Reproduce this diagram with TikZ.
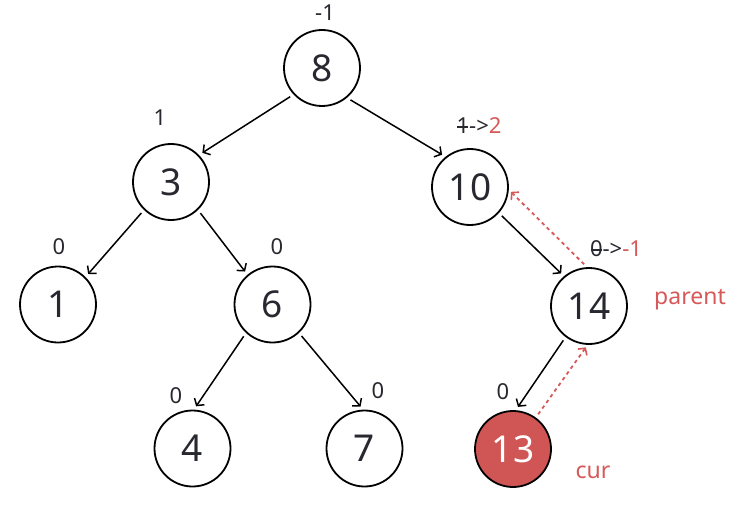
\documentclass[tikz,border=0pt]{standalone}
\usepackage{fontspec}
\setmainfont{Noto Sans}
\usetikzlibrary{arrows.meta}
\definecolor{txt}{RGB}{40,40,48}
\definecolor{redc}{RGB}{215,88,88}
\definecolor{redfill}{RGB}{208,86,86}
\newcommand\stk[1]{\ooalign{#1\cr\hidewidth\rule[0.28em]{0.5em}{0.07em}\hidewidth\cr}}
\tikzset{
  tnode/.style={circle, draw=black, line width=1.8pt, minimum size=76pt, inner sep=0pt,
    font=\fontsize{37}{40}\selectfont, text=txt},
  curnode/.style={tnode, fill=redfill, text=white},
  bal/.style={font=\fontsize{22}{26}\selectfont, text=txt, inner sep=0pt},
  rlab/.style={font=\fontsize{23}{26}\selectfont, text=redc, inner sep=0pt},
  arr/.style={line width=1.5pt, -{Straight Barb[length=5pt,width=12pt,line width=1.5pt]},
    shorten <=4pt, shorten >=4pt},
  darr/.style={line width=1.8pt, redc, dash pattern=on 3.5pt off 3.5pt,
    -{Straight Barb[length=5pt,width=11pt,line width=1.6pt]}, shorten <=4pt, shorten >=3pt}
}
\begin{document}
\begin{tikzpicture}[x=1pt,y=-1pt]
\useasboundingbox (0,0) rectangle (746,505);
\node[tnode] (n8) at (322,68) {8};
\node[tnode] (n3) at (171,182) {3};
\node[tnode] (n10) at (470,187) {10};
\node[tnode] (n1) at (58,304.5) {1};
\node[tnode] (n6) at (272.5,304.5) {6};
\node[tnode] (n14) at (589,306) {14};
\node[tnode] (n4) at (192.5,448.5) {4};
\node[tnode] (n7) at (364.5,448.5) {7};
\node[curnode] (n13) at (513,449) {13};

\node[bal] (b8) at (325,13) {-1};
\node[bal] (b3) at (160,118) {1};
\node[bal] (b10) at (479,126) {\stk{1}->\textcolor{redc}{2}};
\node[bal] (b1) at (59,247) {0};
\node[bal] (b6) at (277,247) {0};
\node[bal] (b14) at (616,249) {\stk{0}->\textcolor{redc}{-1}};
\node[bal] (b4) at (176,396) {0};
\node[bal] (b7) at (378,391) {0};
\node[bal] (b13) at (503,392) {0};
\node[rlab] (lp) at (690,300) {parent};
\node[rlab] (lc) at (593,472) {cur};

\draw[arr] (n8.223) -- (n3.44);
\draw[arr] (n8.310) -- (n10.129);
\draw[arr] (n3.226) -- (n1.45);
\draw[arr] (n3.314) -- (n6.130);
\draw[arr] (n6.227) -- (n4.88);
\draw[arr] (n6.313) -- (n7.92);
\draw[arr] (n10.318) -- (n14.130);
\draw[arr] (n14.233) -- (n13.86);
\draw[darr] (n13.54) -- (n14.268);
\draw[darr] (n14.93) -- (n10.356);
\end{tikzpicture}
\end{document}
